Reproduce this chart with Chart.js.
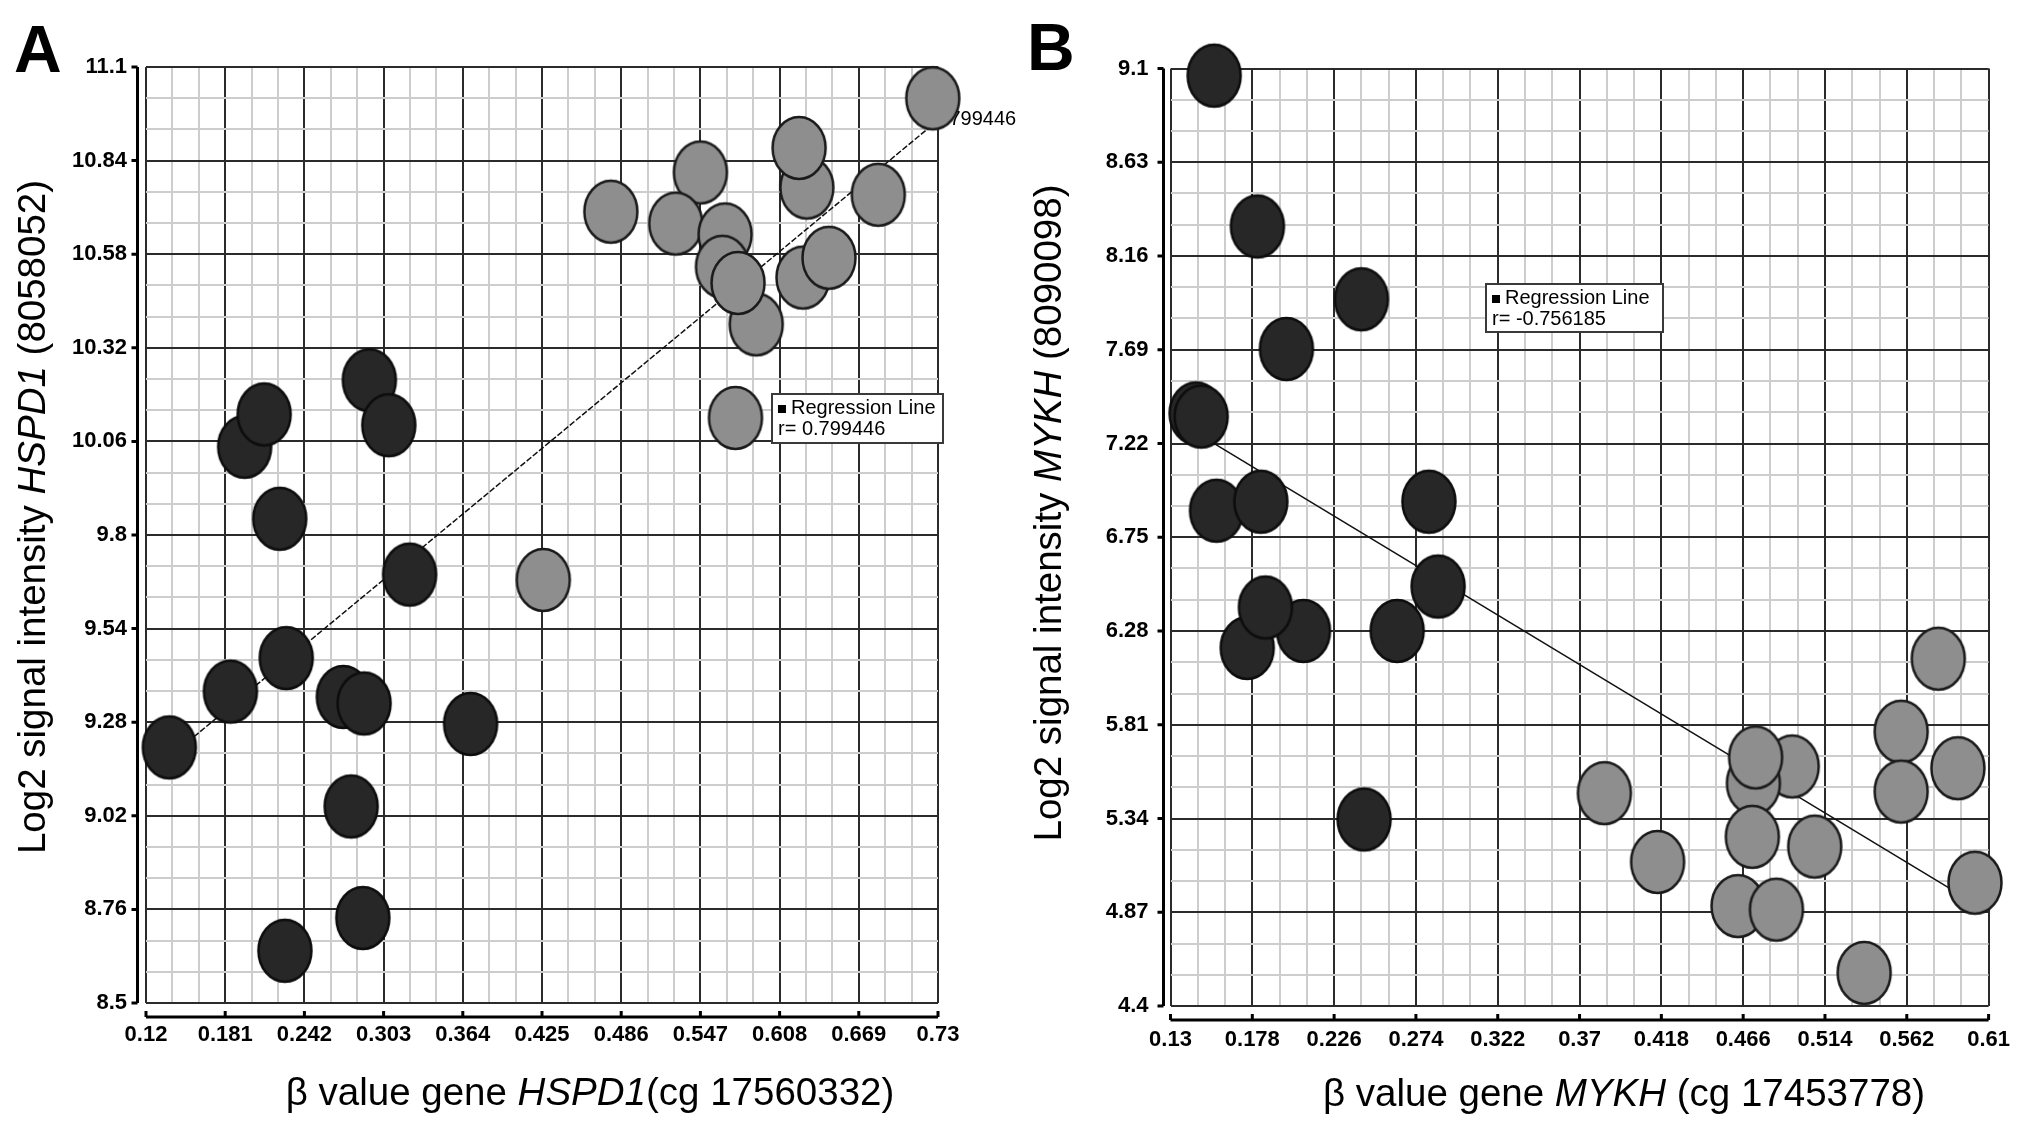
<!DOCTYPE html>
<html>
<head>
<meta charset="utf-8">
<script src="https://cdn.jsdelivr.net/npm/chart.js@4.4.1/dist/chart.umd.min.js"></script>
<style>
html, body { margin: 0; padding: 0; background: #fff; width: 2031px; height: 1131px; overflow: hidden; }
#wrapA { position: absolute; left: 0; top: 0; width: 1030px; height: 1131px; }
#wrapB { position: absolute; left: 1015px; top: 0; width: 1016px; height: 1131px; }
</style>
</head>
<body>
<div id="wrapA"><canvas id="chartA" width="1030" height="1131"></canvas></div>
<div id="wrapB"><canvas id="chartB" width="1016" height="1131"></canvas></div>
<script>
const FONT = '"Liberation Sans", Arial, Helvetica, sans-serif';

// ---- panel A : HSPD1 ----
const xTicksA = [0.12, 0.181, 0.242, 0.303, 0.364, 0.425, 0.486, 0.547, 0.608, 0.669, 0.73];
const yTicksA = [8.5, 8.76, 9.02, 9.28, 9.54, 9.8, 10.06, 10.32, 10.58, 10.84, 11.1];
// dark dots (low beta)
const lowXA = [0.292, 0.307, 0.196, 0.211, 0.223, 0.323, 0.228, 0.185, 0.138, 0.272, 0.288, 0.370, 0.278, 0.287, 0.227];
const lowYA = [10.23, 10.105, 10.045, 10.135, 9.845, 9.69, 9.458, 9.365, 9.21, 9.35, 9.332, 9.275, 9.046, 8.736, 8.645];
// grey dots (high beta)
const highXA = [0.726, 0.629, 0.623, 0.547, 0.478, 0.528, 0.566, 0.590, 0.564, 0.576, 0.626, 0.646, 0.684, 0.574, 0.426];
const highYA = [11.013, 10.765, 10.875, 10.807, 10.698, 10.665, 10.635, 10.385, 10.545, 10.50, 10.515, 10.57, 10.745, 10.125, 9.675];
const lineXA = [0.138, 0.726];
const lineYA = [9.183, 10.94];
const rA = '0.799446';

// ---- panel B : MYKH ----
const xTicksB = [0.13, 0.178, 0.226, 0.274, 0.322, 0.37, 0.418, 0.466, 0.514, 0.562, 0.61];
const yTicksB = [4.4, 4.87, 5.34, 5.81, 6.28, 6.75, 7.22, 7.69, 8.16, 8.63, 9.1];
const lowXB = [0.1556, 0.181, 0.242, 0.198, 0.145, 0.148, 0.157, 0.183, 0.2816, 0.287, 0.175, 0.208, 0.1857, 0.263, 0.2436];
const lowYB = [9.064, 8.308, 7.943, 7.694, 7.371, 7.355, 6.883, 6.928, 6.928, 6.503, 6.195, 6.28, 6.398, 6.28, 5.335];
const highXB = [0.5805, 0.5587, 0.592, 0.5587, 0.4948, 0.472, 0.4733, 0.3846, 0.4714, 0.4158, 0.508, 0.602, 0.463, 0.4855, 0.537];
const highYB = [6.141, 5.775, 5.592, 5.475, 5.601, 5.516, 5.646, 5.467, 5.248, 5.122, 5.199, 5.018, 4.901, 4.883, 4.566];
const lineXB = [0.145, 0.602];
const lineYB = [7.275, 4.913];
const rB = '-0.756185';

function zip(xs, ys) {
    return xs.map((x, i) => ({ x: x, y: ys[i] }));
}

// major ticks plus two light minor lines between each pair
function withMinors(major) {
    const out = [];
    for (let i = 0; i < major.length; i++) {
        out.push({ value: major[i] });
        if (i < major.length - 1) {
            const step = (major[i + 1] - major[i]) / 3;
            out.push({ value: major[i] + step }, { value: major[i] + 2 * step });
        }
    }
    return out;
}

function ellipseMarker(fill, stroke) {
    const c = document.createElement('canvas');
    c.width = 60;
    c.height = 68;
    const g = c.getContext('2d');
    g.beginPath();
    g.ellipse(30, 34, 26.5, 31, 0, 0, Math.PI * 2);
    g.fillStyle = fill;
    g.fill();
    g.lineWidth = 2.5;
    g.strokeStyle = stroke;
    g.stroke();
    return c;
}
const darkDot = ellipseMarker('#272727', '#0d0d0d');
const greyDot = ellipseMarker('#8e8e8e', '#1a1a1a');

function drawRich(ctx, parts, size) {
    const fonts = parts.map(p => (p[1] ? 'italic ' : '') + size + 'px ' + FONT);
    let total = 0;
    const widths = parts.map((p, i) => {
        ctx.font = fonts[i];
        const w = ctx.measureText(p[0]).width;
        total += w;
        return w;
    });
    let x = -total / 2;
    parts.forEach((p, i) => {
        ctx.font = fonts[i];
        ctx.fillText(p[0], x, 0);
        x += widths[i];
    });
}

const decor = {
    id: 'decor',
    beforeDatasetsDraw(chart, args, o) {
        if (!o.endLabel) return;
        const ctx = chart.ctx;
        const reg = chart.data.datasets[0].data;
        const last = reg[reg.length - 1];
        const px = chart.scales.x.getPixelForValue(last.x);
        const py = chart.scales.y.getPixelForValue(last.y);
        ctx.save();
        ctx.font = '20px ' + FONT;
        ctx.fillStyle = '#000';
        ctx.textAlign = 'left';
        ctx.textBaseline = 'middle';
        ctx.fillText(o.endLabel, px, py - 5);
        ctx.restore();
    },
    afterDraw(chart, args, o) {
        const ctx = chart.ctx;
        const a = chart.chartArea;
        const xs = chart.scales.x, ys = chart.scales.y;
        ctx.save();
        ctx.strokeStyle = '#000';
        ctx.lineWidth = 3;
        // detached y axis
        const ax = a.left - o.gapY;
        ctx.beginPath();
        ctx.moveTo(ax, ys.getPixelForValue(ys.max));
        ctx.lineTo(ax, ys.getPixelForValue(ys.min));
        o.yMajor.forEach(v => {
            const py = ys.getPixelForValue(v);
            ctx.moveTo(ax, py);
            ctx.lineTo(ax - 6, py);
        });
        ctx.stroke();
        // detached x axis
        const ay = a.bottom + o.gapX;
        ctx.beginPath();
        ctx.moveTo(xs.getPixelForValue(xs.min), ay);
        ctx.lineTo(xs.getPixelForValue(xs.max), ay);
        o.xMajor.forEach(v => {
            const px = xs.getPixelForValue(v);
            ctx.moveTo(px, ay);
            ctx.lineTo(px, ay - 6);
        });
        ctx.stroke();

        ctx.fillStyle = '#000';
        ctx.textAlign = 'left';
        ctx.textBaseline = 'alphabetic';
        // x title
        ctx.save();
        ctx.translate(o.xTitle.x, o.xTitle.y);
        drawRich(ctx, o.xTitle.parts, 38.5);
        ctx.restore();
        // y title
        ctx.save();
        ctx.translate(o.yTitle.x, o.yTitle.y);
        ctx.rotate(-Math.PI / 2);
        drawRich(ctx, o.yTitle.parts, 38.5);
        ctx.restore();
        // panel letter
        ctx.font = 'bold 66px ' + FONT;
        ctx.fillText(o.letter.text, o.letter.x, o.letter.y);

        // legend box
        const b = o.box;
        ctx.fillStyle = '#fff';
        ctx.fillRect(b.x, b.y, b.w, b.h);
        ctx.strokeStyle = '#3a3a3a';
        ctx.lineWidth = 2;
        ctx.strokeRect(b.x, b.y, b.w, b.h);
        ctx.fillStyle = '#000';
        ctx.fillRect(b.x + 6, b.y + 11, 8, 8);
        ctx.font = '20px ' + FONT;
        ctx.fillText('Regression Line', b.x + 19, b.y + 20);
        ctx.fillText('r= ' + o.r, b.x + 6, b.y + 41);
        ctx.restore();
    }
};

function makeChart(id, d) {
    return new Chart(document.getElementById(id), {
        type: 'scatter',
        data: {
            datasets: [
                {
                    label: 'Regression Line',
                    data: zip(d.lineX, d.lineY),
                    showLine: true,
                    pointRadius: 0,
                    borderColor: '#111',
                    borderWidth: 1.5,
                    borderDash: d.dash,
                    order: 10
                },
                { label: 'low', data: zip(d.lowX, d.lowY), pointStyle: darkDot, pointRadius: 28, clip: false, order: 2 },
                { label: 'high', data: zip(d.highX, d.highY), pointStyle: greyDot, pointRadius: 28, clip: false, order: 1 }
            ]
        },
        options: {
            responsive: false,
            animation: false,
            events: [],
            layout: { padding: { left: 0, top: d.top, right: d.right, bottom: 0 } },
            plugins: {
                legend: { display: false },
                tooltip: { enabled: false },
                decor: d.decor
            },
            scales: {
                x: {
                    type: 'linear',
                    min: d.xt[0],
                    max: d.xt[d.xt.length - 1],
                    afterBuildTicks: s => { s.ticks = withMinors(d.xt); },
                    afterFit: s => { s.height = d.xHeight; },
                    border: { display: false },
                    grid: {
                        drawTicks: false,
                        lineWidth: 2,
                        color: c => (c.index % 3 === 0 ? '#2b2b2b' : '#cdcdcd')
                    },
                    ticks: {
                        autoSkip: false,
                        maxRotation: 0,
                        padding: d.xPad,
                        color: '#000',
                        font: { family: FONT, size: 22, weight: 'bold' },
                        callback: (v, i) => (i % 3 === 0 ? String(d.xt[i / 3]) : '')
                    }
                },
                y: {
                    type: 'linear',
                    min: d.yt[0],
                    max: d.yt[d.yt.length - 1],
                    afterBuildTicks: s => { s.ticks = withMinors(d.yt); },
                    afterFit: s => { s.width = d.yWidth; },
                    border: { display: false },
                    grid: {
                        drawTicks: false,
                        lineWidth: 2,
                        color: c => (c.index % 3 === 0 ? '#2b2b2b' : '#cdcdcd')
                    },
                    ticks: {
                        autoSkip: false,
                        padding: d.yPad,
                        color: '#000',
                        font: { family: FONT, size: 22, weight: 'bold' },
                        callback: (v, i) => (i % 3 === 0 ? String(d.yt[i / 3]) : '')
                    }
                }
            }
        },
        plugins: [decor]
    });
}

makeChart('chartA', {
    xt: xTicksA, yt: yTicksA,
    lowX: lowXA, lowY: lowYA, highX: highXA, highY: highYA,
    lineX: lineXA, lineY: lineYA, dash: [6, 2],
    top: 67, right: 92, xHeight: 128, yWidth: 146, xPad: 19, yPad: 19,
    decor: {
        endLabel: rA, r: rA, gapY: 8.5, gapX: 14,
        xMajor: xTicksA, yMajor: yTicksA,
        xTitle: { x: 590, y: 1105, parts: [['\u03b2 value gene ', false], ['HSPD1', true], ['(cg 17560332)', false]] },
        yTitle: { x: 45, y: 517, parts: [['Log2 signal intensity ', false], ['HSPD1', true], [' (8058052)', false]] },
        letter: { text: 'A', x: 14, y: 72 },
        box: { x: 772, y: 394, w: 171, h: 49 }
    }
});

makeChart('chartB', {
    xt: xTicksB, yt: yTicksB,
    lowX: lowXB, lowY: lowYB, highX: highXB, highY: highYB,
    lineX: lineXB, lineY: lineYB, dash: [],
    top: 68.5, right: 33.5, xHeight: 125, yWidth: 155.5, xPad: 21, yPad: 22,
    decor: {
        endLabel: null, r: rB, gapY: 7, gapX: 14,
        xMajor: xTicksB, yMajor: yTicksB,
        xTitle: { x: 609, y: 1106, parts: [['\u03b2 value gene ', false], ['MYKH', true], [' (cg 17453778)', false]] },
        yTitle: { x: 46, y: 513, parts: [['Log2 signal intensity ', false], ['MYKH', true], [' (8090098)', false]] },
        letter: { text: 'B', x: 12, y: 70 },
        box: { x: 471, y: 284, w: 177, h: 48 }
    }
});
</script>
</body>
</html>
